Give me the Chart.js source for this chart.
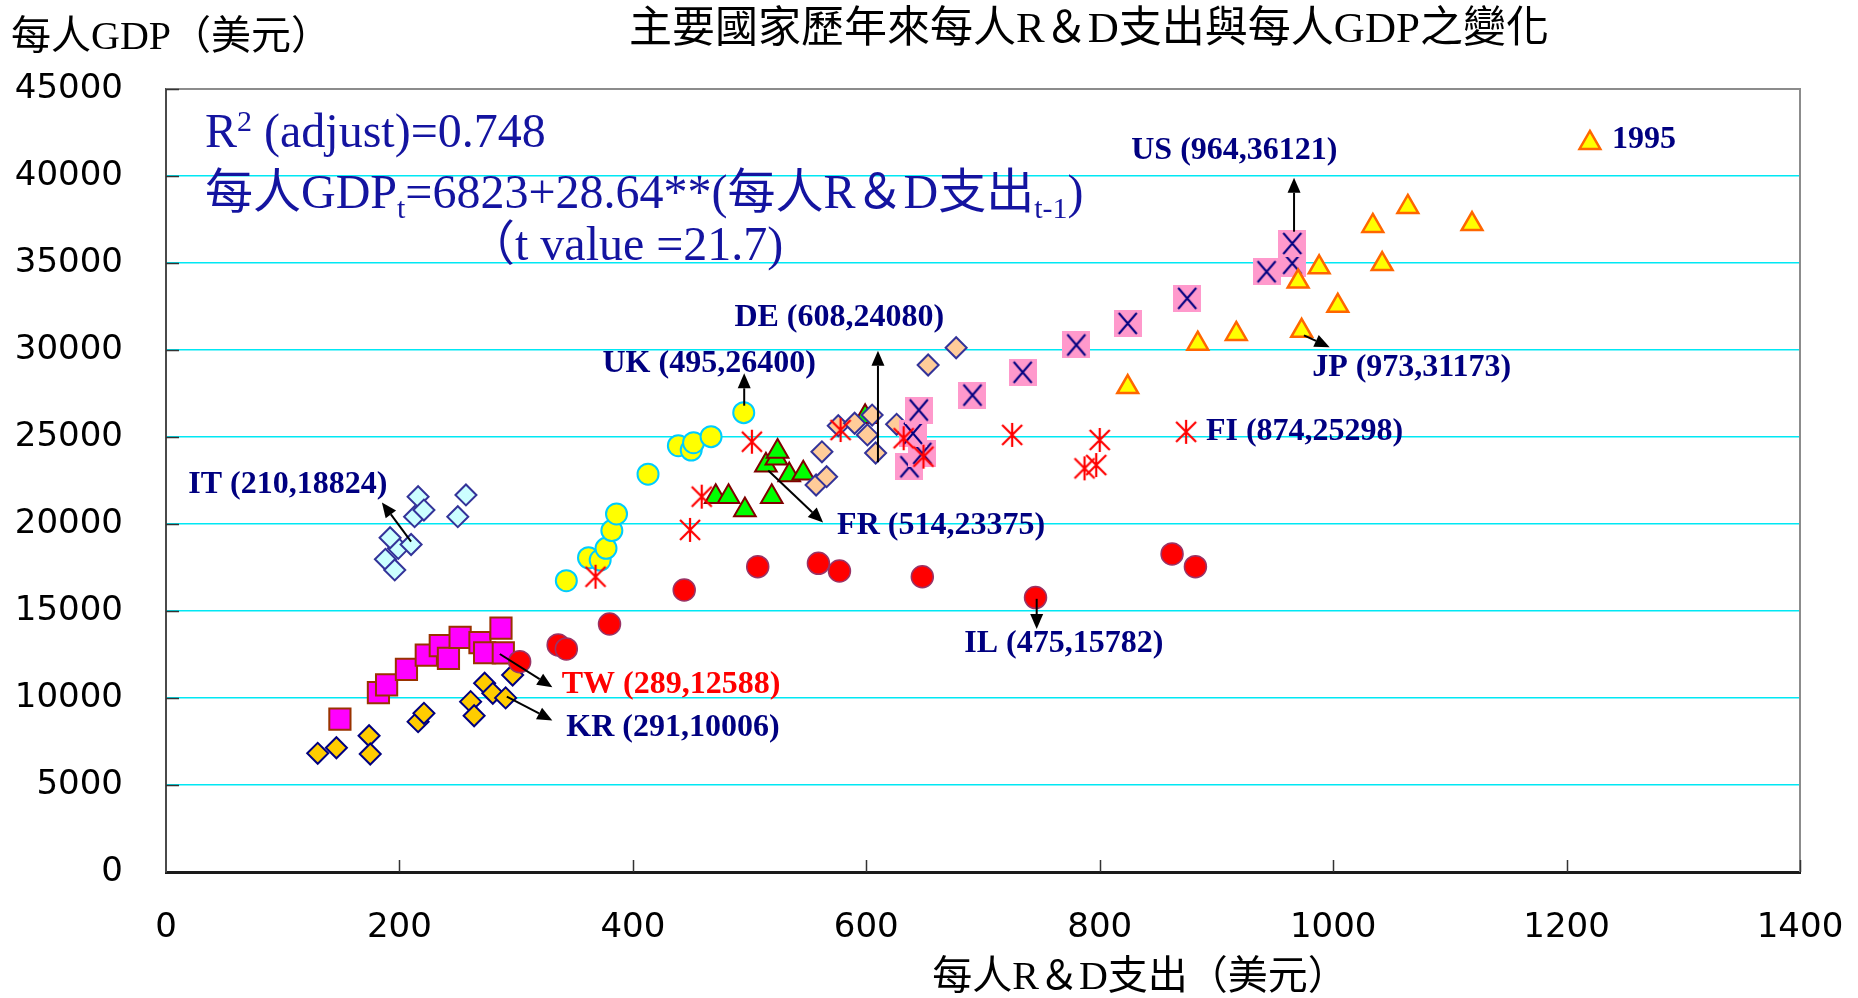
<!DOCTYPE html>
<html>
<head>
<meta charset="utf-8">
<script src="https://cdn.jsdelivr.net/npm/chart.js@4.4.1/dist/chart.umd.min.js"></script>
<style>
  html, body { margin: 0; padding: 0; background: #ffffff; }
  #wrap { width: 1858px; height: 998px; }
</style>
</head>
<body>
<div id="wrap"><canvas id="c" width="1858" height="998"></canvas></div>
<script>
// ---------------- DATA ----------------
const chartTitle = '主要國家歷年來每人R＆D支出與每人GDP之變化';
const yTitle = '每人GDP（美元）';
const xTitle = '每人R＆D支出（美元）';

const xTicks = [0, 200, 400, 600, 800, 1000, 1200, 1400];
const yTicks = [0, 5000, 10000, 15000, 20000, 25000, 30000, 35000, 40000, 45000];

// Japan
const jpX = [1220, 1119, 1064, 1034, 1042, 988, 970, 1004, 973, 917, 884, 824];
const jpY = [41900, 37240, 38220, 37130, 34940, 34750, 33930, 32540, 31100, 30920, 30360, 27870];
// United States
const usX = [637, 648, 640, 645, 691, 734, 780, 824, 875, 943, 965, 965];
const usY = [23290, 24060, 25210, 26550, 27410, 28720, 30290, 31530, 32970, 34500, 34980, 36121];
// Germany
const deX = [557, 566, 562, 576, 590, 601, 608, 605, 626, 653, 677];
const deY = [22240, 22720, 24150, 25650, 25790, 25120, 24080, 26260, 25730, 29140, 30130];
// United Kingdom
const ukX = [343, 362, 372, 377, 382, 386, 413, 439, 450, 452, 467, 495];
const ukY = [16740, 18060, 17930, 18600, 19620, 20580, 22860, 24500, 24250, 24670, 25020, 26400];
// Italy
const itX = [188, 196, 199, 192, 210, 213, 216, 221, 250, 257];
const itY = [17970, 17360, 18600, 19210, 18824, 20420, 21570, 20800, 20420, 21670];
// France
const frX = [471, 482, 496, 514, 519, 523, 524, 534, 546, 599];
const frY = [21570, 21570, 20800, 23375, 21570, 23780, 24160, 22820, 22910, 26170];
// Finland
const fiX = [368, 449, 459, 502, 578, 632, 649, 725, 787, 797, 800, 874];
const fiY = [16970, 19660, 21570, 24730, 25400, 24930, 23870, 25120, 23200, 23390, 24830, 25298];
// Israel
const ilX = [303, 336, 343, 380, 444, 507, 559, 577, 648, 745, 862, 882];
const ilY = [12090, 13050, 12820, 14250, 16210, 17550, 17740, 17300, 16970, 15770, 18280, 17550];
// Taiwan
const twX = [149, 182, 189, 206, 223, 235, 242, 252, 269, 273, 287, 289];
const twY = [8790, 10310, 10750, 11650, 12470, 13010, 12280, 13490, 13180, 12600, 14010, 12588];
// Korea
const krX = [130, 146, 174, 175, 216, 221, 261, 264, 273, 280, 291, 297];
const krY = [6820, 7140, 7830, 6780, 8640, 9120, 9790, 8980, 10850, 10270, 10006, 11320];

// annotation texts
const labelTexts = ['US (964,36121)', '1995', 'JP (973,31173)', 'DE (608,24080)', 'UK (495,26400)',
  'IT (210,18824)', 'FR (514,23375)', 'FI (874,25298)', 'IL (475,15782)', 'TW (289,12588)', 'KR (291,10006)'];

// ---------------- PLACEMENT (data units) ----------------
const labelPlacement = [
  { x: 827, y: 41460, color: '#000080', arrow: [966.5, 36800, 966.5, 39900] },
  { x: 1239, y: 42070, color: '#000080', arrow: null },
  { x: 982, y: 29000, color: '#000080', arrow: [975, 30840, 997, 30160] },
  { x: 487, y: 31860, color: '#000080', arrow: [610, 23550, 610, 29950] },
  { x: 374, y: 29200, color: '#000080', arrow: [495.4, 26800, 495.4, 28660] },
  { x: 19, y: 22260, color: '#000080', arrow: [210, 18990, 185, 21240] },
  { x: 575, y: 19880, color: '#000080', arrow: [516, 23080, 563, 20080] },
  { x: 891, y: 25320, color: '#000080', arrow: null },
  { x: 684, y: 13140, color: '#000080', arrow: [746, 15700, 746, 13960] },
  { x: 339, y: 10760, color: '#ff0000', arrow: [286, 12530, 331, 10620] },
  { x: 343, y: 8310, color: '#000080', arrow: [292, 10080, 331, 8710] }
];

function pts(xs, ys) { return xs.map((v, i) => ({ x: v, y: ys[i] })); }

// custom marker images
function makeUS() {
  const c = document.createElement('canvas');
  c.width = 28; c.height = 27;
  const g = c.getContext('2d');
  g.fillStyle = '#FF99CC';
  g.fillRect(0, 0, 28, 27);
  g.strokeStyle = '#000080';
  g.lineWidth = 2;
  g.beginPath();
  g.moveTo(5, 3); g.lineTo(23, 24);
  g.moveTo(23, 3); g.lineTo(5, 24);
  g.stroke();
  return c;
}
function makeStar() {
  const c = document.createElement('canvas');
  c.width = 26; c.height = 26;
  const g = c.getContext('2d');
  g.strokeStyle = '#FF0000';
  g.lineWidth = 2.2;
  g.beginPath();
  g.moveTo(3, 3); g.lineTo(23, 23);
  g.moveTo(23, 3); g.lineTo(3, 23);
  g.moveTo(13, 1); g.lineTo(13, 25);
  g.stroke();
  return c;
}
const usImg = makeUS();
const starImg = makeStar();

const datasets = [
  { label: 'JP', data: pts(jpX, jpY), pointStyle: 'triangle', pointRadius: 12, backgroundColor: '#FFFF00', borderColor: '#FF6600', borderWidth: 2.5 },
  { label: 'FI', data: pts(fiX, fiY), pointStyle: starImg, pointRadius: 13, backgroundColor: '#FF0000', borderColor: '#FF0000' },
  { label: 'IL', data: pts(ilX, ilY), pointStyle: 'circle', pointRadius: 11, backgroundColor: '#FF0000', borderColor: '#993366', borderWidth: 1.5 },
  { label: 'US', data: pts(usX, usY), pointStyle: usImg, pointRadius: 14, backgroundColor: '#FF99CC', borderColor: '#000080' },
  { label: 'DE', data: pts(deX, deY), pointStyle: 'rectRot', pointRadius: 10.5, backgroundColor: '#FFCC99', borderColor: '#333399', borderWidth: 2 },
  { label: 'FR', data: pts(frX, frY), pointStyle: 'triangle', pointRadius: 12.5, backgroundColor: '#00FF00', borderColor: '#800000', borderWidth: 2 },
  { label: 'UK', data: pts(ukX, ukY), pointStyle: 'circle', pointRadius: 10.5, backgroundColor: '#FFFF00', borderColor: '#00CCFF', borderWidth: 2 },
  { label: 'IT', data: pts(itX, itY), pointStyle: 'rectRot', pointRadius: 10.5, backgroundColor: '#CCFFFF', borderColor: '#333399', borderWidth: 2 },
  { label: 'TW', data: pts(twX, twY), pointStyle: 'rect', pointRadius: 15, backgroundColor: '#FF00FF', borderColor: '#993300', borderWidth: 2 },
  { label: 'KR', data: pts(krX, krY), pointStyle: 'rectRot', pointRadius: 10.5, backgroundColor: '#FFCC00', borderColor: '#000080', borderWidth: 2 }
];

const CJK = '"Liberation Serif", "Noto Sans CJK TC", serif';
const REG_COLOR = '#1414a0';

function drawRuns(ctx, x, y, runs) {
  let cx = x;
  runs.forEach(r => {
    ctx.font = r.font;
    ctx.fillText(r.t, cx, y + (r.dy || 0));
    cx += ctx.measureText(r.t).width;
  });
}

function arrow(ctx, x1, y1, x2, y2) {
  const ang = Math.atan2(y2 - y1, x2 - x1);
  const L = 15, W = 6.5;
  const bx = x2 - L * Math.cos(ang), by = y2 - L * Math.sin(ang);
  ctx.strokeStyle = '#000';
  ctx.lineWidth = 2;
  ctx.beginPath();
  ctx.moveTo(x1, y1); ctx.lineTo(bx, by);
  ctx.stroke();
  ctx.fillStyle = '#000';
  ctx.beginPath();
  ctx.moveTo(x2, y2);
  ctx.lineTo(bx + W * Math.sin(ang), by - W * Math.cos(ang));
  ctx.lineTo(bx - W * Math.sin(ang), by + W * Math.cos(ang));
  ctx.closePath();
  ctx.fill();
}

const decor = {
  id: 'decor',
  beforeDatasetsDraw(chart) {
    const { ctx, chartArea: a, scales: { x, y } } = chart;
    ctx.save();
    // top and right frame
    ctx.strokeStyle = '#8c8c8c';
    ctx.lineWidth = 2;
    ctx.beginPath();
    ctx.moveTo(a.left, a.top); ctx.lineTo(a.right, a.top); ctx.lineTo(a.right, a.bottom);
    ctx.stroke();
    // inside tick marks
    ctx.strokeStyle = '#333';
    ctx.lineWidth = 1.5;
    ctx.beginPath();
    yTicks.forEach(v => { if (v > 0) { const p = Math.round(y.getPixelForValue(v)) + 0.5; ctx.moveTo(a.left, p); ctx.lineTo(a.left + 13, p); } });
    xTicks.forEach(v => { if (v > 0) { const p = Math.round(x.getPixelForValue(v)) + 0.5; ctx.moveTo(p, a.bottom); ctx.lineTo(p, a.bottom - 12); } });
    ctx.stroke();
    ctx.restore();
  },
  afterDatasetsDraw(chart) {
    const { ctx, chartArea: a, scales: { x, y } } = chart;
    ctx.save();
    // arrows & labels
    labelPlacement.forEach((p, i) => {
      if (p.arrow) {
        arrow(ctx, x.getPixelForValue(p.arrow[0]), y.getPixelForValue(p.arrow[1]),
                   x.getPixelForValue(p.arrow[2]), y.getPixelForValue(p.arrow[3]));
      }
      ctx.font = 'bold 32px "Liberation Serif", serif';
      ctx.fillStyle = p.color;
      ctx.textAlign = 'left';
      ctx.textBaseline = 'middle';
      ctx.fillText(labelTexts[i], x.getPixelForValue(p.x), y.getPixelForValue(p.y));
    });

    // regression text
    ctx.fillStyle = REG_COLOR;
    ctx.textAlign = 'left';
    ctx.textBaseline = 'alphabetic';
    const F = '48px ' + CJK;
    const S = '30px ' + CJK;
    const left = a.left + 39;
    drawRuns(ctx, left, 147, [
      { t: 'R', font: F }, { t: '2', font: '30px ' + CJK, dy: -16 }, { t: ' (adjust)=0.748', font: F }
    ]);
    drawRuns(ctx, left, 208, [
      { t: '每人GDP', font: F }, { t: 't', font: S, dy: 10 },
      { t: '=6823+28.64**(每人R＆D支出', font: F }, { t: 't-1', font: S, dy: 10 }, { t: ')', font: F }
    ]);
    drawRuns(ctx, left + 262, 260, [{ t: '（t value =21.7)', font: F }]);

    // titles
    ctx.fillStyle = '#000';
    ctx.textBaseline = 'middle';
    ctx.font = '43px ' + CJK;
    ctx.textAlign = 'center';
    ctx.fillText(chartTitle, 1089, 31);
    ctx.font = '40px ' + CJK;
    ctx.textAlign = 'left';
    ctx.fillText(yTitle, 11, 38);
    ctx.font = '40px ' + CJK;
    ctx.textAlign = 'center';
    ctx.fillText(xTitle, 1140, 978);
    ctx.restore();
  }
};

new Chart(document.getElementById('c'), {
  type: 'scatter',
  data: { datasets },
  options: {
    responsive: false,
    devicePixelRatio: 1,
    animation: false,
    events: [],
    layout: { padding: { top: 89, right: 58, left: 0, bottom: 0 } },
    plugins: { legend: { display: false }, tooltip: { enabled: false }, title: { display: false } },
    scales: {
      x: {
        type: 'linear', min: 0, max: 1400,
        afterBuildTicks(s) { s.ticks = xTicks.map(v => ({ value: v })); },
        afterFit(s) { s.height = 126; s.paddingLeft = 0; s.paddingRight = 0; },
        grid: { display: false, drawTicks: false },
        border: { display: true, color: '#1a1a1a', width: 3 },
        ticks: { color: '#000', padding: 36, maxRotation: 0, callback: v => String(v), font: { family: 'DejaVu Sans', size: 34 } }
      },
      y: {
        type: 'linear', min: 0, max: 45000,
        afterBuildTicks(s) { s.ticks = yTicks.map(v => ({ value: v })); },
        afterFit(s) { s.width = 166; s.paddingTop = 0; s.paddingBottom = 0; },
        grid: {
          drawTicks: false,
          lineWidth: 1.5,
          color: c => (c.tick && (c.tick.value === 0 || c.tick.value === 45000)) ? 'rgba(0,0,0,0)' : '#00e8f4'
        },
        border: { display: true, color: '#4a4a4a', width: 2 },
        ticks: { color: '#000', padding: 43, callback: v => String(v), font: { family: 'DejaVu Sans', size: 34 } }
      }
    }
  },
  plugins: [decor]
});
</script>
</body>
</html>
